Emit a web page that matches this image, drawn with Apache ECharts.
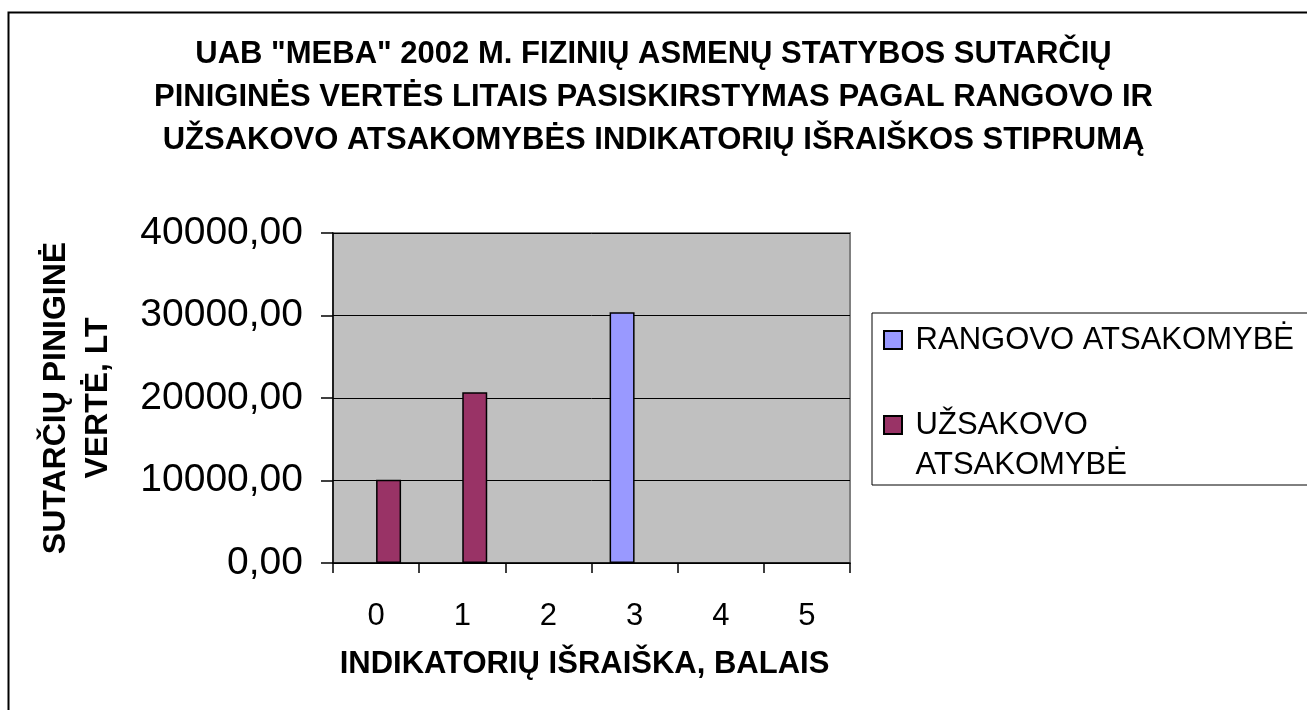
<!DOCTYPE html>
<html>
<head>
<meta charset="utf-8">
<script src="https://cdn.jsdelivr.net/npm/echarts@6/dist/echarts.min.js"></script>
<style>
  html, body { margin: 0; padding: 0; background: #fff; }
  #chart { width: 1307px; height: 710px; }
</style>
</head>
<body>
<div id="chart"></div>
<script>
// duomenys
const categories = ['0', '1', '2', '3', '4', '5'];
const rangovoValues = [null, null, null, 30400, null, null];
const uzsakovoValues = [10100, 20700, null, null, null, null];
const seriesNames = ['RANGOVO ATSAKOMYBĖ', 'UŽSAKOVO ATSAKOMYBĖ'];
const yMin = 0;
const yMax = 40000;
const yStep = 10000;

const font = 'Liberation Sans, Arial, sans-serif';

const chart = echarts.init(document.getElementById('chart'));

const option = {
  backgroundColor: '#fff',
  animation: false,
  title: {
    text: 'UAB "MEBA" 2002 M. FIZINIŲ ASMENŲ STATYBOS SUTARČIŲ\nPINIGINĖS VERTĖS LITAIS PASISKIRSTYMAS PAGAL RANGOVO IR\nUŽSAKOVO ATSAKOMYBĖS INDIKATORIŲ IŠRAIŠKOS STIPRUMĄ',
    left: 'center',
    top: 28,
    textStyle: {
      fontFamily: font,
      fontSize: 31,
      fontWeight: 'bold',
      color: '#000',
      lineHeight: 43
    }
  },
  graphic: [
    {
      // rėmelis aplink diagramą
      type: 'rect',
      left: 6,
      top: 10,
      shape: { width: 1400, height: 800 },
      style: { fill: 'none', stroke: '#000', lineWidth: 2 },
      z: -1
    }
  ],
  legend: {
    orient: 'vertical',
    left: 872,
    top: 313,
    padding: [7, 40, 0, 11],
    itemGap: 5,
    itemWidth: 18,
    itemHeight: 18,
    icon: 'rect',
    backgroundColor: '#fff',
    borderColor: '#000',
    borderWidth: 1,
    data: seriesNames,
    formatter: function (name) {
      // antras įrašas laužomas į dvi eilutes, pirma eilutė lygiuojama su ženklu
      return name === seriesNames[1] ? '\n UŽSAKOVO\n ATSAKOMYBĖ' : ' ' + name;
    },
    textStyle: {
      fontFamily: font,
      fontSize: 31,
      lineHeight: 40,
      color: '#000'
    }
  },
  grid: {
    left: 333,
    top: 233,
    width: 517,
    height: 330,
    show: true,
    backgroundColor: '#c0c0c0',
    borderColor: '#808080',
    borderWidth: 2
  },
  xAxis: {
    type: 'category',
    data: categories,
    name: 'INDIKATORIŲ IŠRAIŠKA, BALAIS',
    nameLocation: 'middle',
    nameGap: 80,
    nameTextStyle: {
      fontFamily: font,
      fontSize: 31,
      fontWeight: 'bold',
      color: '#000',
      lineHeight: 42,
      padding: [0, 14, 0, 0]
    },
    axisLine: { lineStyle: { color: '#000', width: 1.5 } },
    axisTick: { show: true, length: 10, lineStyle: { color: '#000', width: 1.5 } },
    axisLabel: {
      fontFamily: font,
      fontSize: 31,
      lineHeight: 36,
      color: '#000',
      margin: 35
    }
  },
  yAxis: {
    type: 'value',
    min: yMin,
    max: yMax,
    interval: yStep,
    name: 'SUTARČIŲ PINIGINĖ\nVERTĖ, LT',
    nameLocation: 'middle',
    nameGap: 214,
    nameTextStyle: {
      fontFamily: font,
      fontSize: 32,
      fontWeight: 'bold',
      color: '#000',
      lineHeight: 42
    },
    axisLine: { show: true, lineStyle: { color: '#000', width: 1.5 } },
    axisTick: { show: true, length: 12, lineStyle: { color: '#000', width: 1.5 } },
    splitLine: { show: true, lineStyle: { color: '#000', width: 1 } },
    axisLabel: {
      fontFamily: font,
      fontSize: 39,
      color: '#000',
      margin: 30,
      formatter: function (v) {
        return v.toFixed(2).replace('.', ',');
      }
    }
  },
  series: [
    {
      name: seriesNames[0],
      type: 'bar',
      data: rangovoValues,
      barWidth: '29%',
      barGap: '0%',
      itemStyle: { color: '#9999ff', borderColor: '#000', borderWidth: 1.5 }
    },
    {
      name: seriesNames[1],
      type: 'bar',
      data: uzsakovoValues,
      barWidth: '29%',
      barGap: '0%',
      itemStyle: { color: '#993366', borderColor: '#000', borderWidth: 1.5 }
    }
  ]
};

chart.setOption(option);
</script>
</body>
</html>
